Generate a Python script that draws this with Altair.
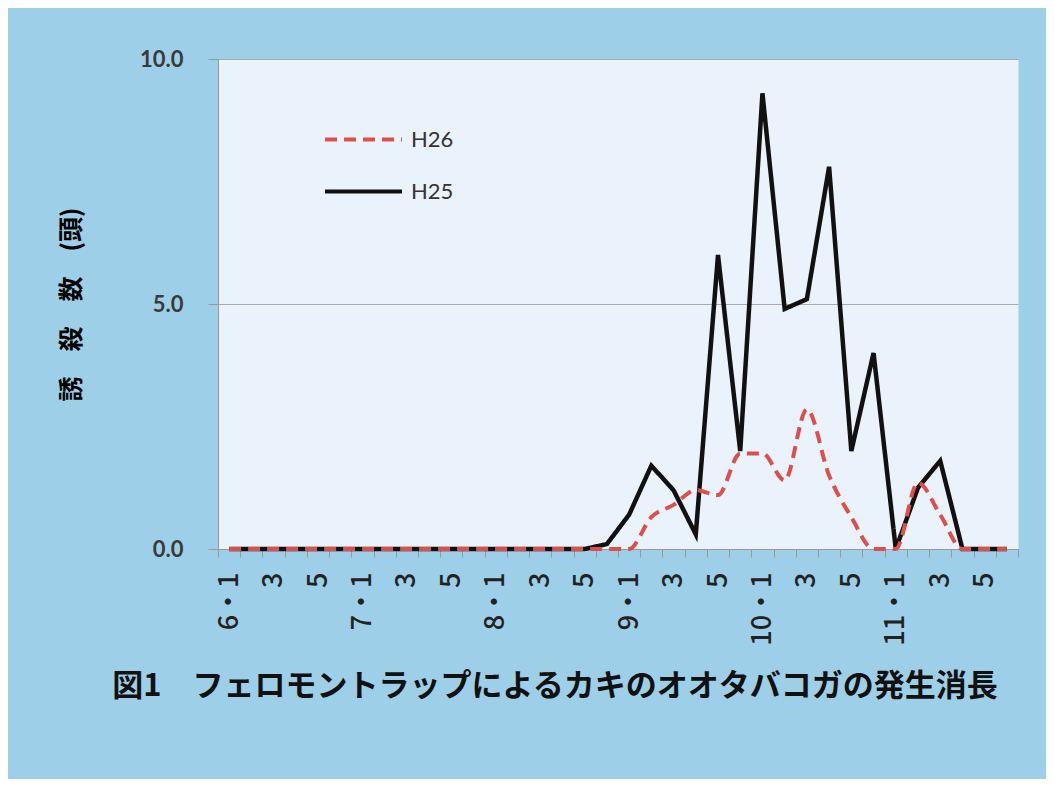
import altair as alt
import pandas as pd

months = ["6", "7", "8", "9", "10", "11"]
pentads = ["1", "2", "3", "4", "5", "6"]
categories = [f"{m}・{p}" for m in months for p in pentads]

h25 = [0, 0, 0, 0, 0, 0,
       0, 0, 0, 0, 0, 0,
       0, 0, 0, 0, 0, 0.1,
       0.7, 1.7, 1.2, 0.3, 6.0, 2.0,
       9.3, 4.9, 5.1, 7.8, 2.0, 4.0,
       0.0, 1.25, 1.8, 0, 0, 0]
h26 = [0, 0, 0, 0, 0, 0,
       0, 0, 0, 0, 0, 0,
       0, 0, 0, 0, 0, 0,
       0, 0.65, 0.9, 1.2, 1.1, 1.95,
       1.95, 1.4, 2.85, 1.5, 0.65, 0,
       0, 1.35, 0.7, 0, 0, 0]

series_names = ["H26", "H25"]
series_colors = ["#DD4F4A", "#111111"]
series_dash = [[12, 7], [1, 0]]

rows = []
for c, v in zip(categories, h25):
    rows.append({"cat": c, "value": v, "series": "H25"})
for c, v in zip(categories, h26):
    rows.append({"cat": c, "value": v, "series": "H26"})
df = pd.DataFrame(rows)

label_expr = (
    "indexof(['1','3','5'], split(datum.value,'・')[1]) < 0 ? '' : "
    "(split(datum.value,'・')[1] == '1' ? datum.value : split(datum.value,'・')[1])"
)

x_enc = alt.X(
    "cat:N",
    sort=categories,
    title=None,
    scale=alt.Scale(type="band", paddingInner=0, paddingOuter=0),
    axis=alt.Axis(
        labelAngle=270,
        labelAlign="right",
        labelBaseline="middle",
        labelExpr=label_expr,
        labelOverlap=False,
        labelFont="Noto Sans CJK JP",
        labelFontSize=27,
        labelFontWeight=500,
        labelColor="#222222",
        labelPadding=15,
        tickBand="extent",
        tickSize=8,
        tickColor="#999999",
        domainColor="#999999",
        grid=False,
    ),
)
y_enc = alt.Y(
    "value:Q",
    scale=alt.Scale(domain=[0, 10]),
    title="誘　殺　数　(頭)",
    axis=alt.Axis(
        values=[0, 5, 10],
        format=".1f",
        labelFont="Lato",
        labelFontSize=22,
        labelFontWeight="bold",
        labelColor="#3a3a3a",
        labelPadding=25,
        tickSize=10,
        tickColor="#999999",
        domainColor="#999999",
        gridColor="#aaaaaa",
        titleFont="Noto Sans CJK JP",
        titleFontSize=25,
        titleFontWeight="bold",
        titleColor="#000000",
        titlePadding=55,
    ),
)
legend_opts = dict(
    title=None,
    orient="none",
    legendX=105,
    legendY=40,
    symbolType="stroke",
    symbolSize=5929,
    symbolStrokeWidth=4,
    labelFont="Lato",
    labelFontSize=22,
    labelColor="#333333",
    labelOffset=7,
    rowPadding=-24,
)
color_enc = alt.Color(
    "series:N",
    scale=alt.Scale(domain=series_names, range=series_colors),
    legend=alt.Legend(**legend_opts),
)
dash_enc = alt.StrokeDash(
    "series:N",
    scale=alt.Scale(domain=series_names, range=series_dash),
    legend=alt.Legend(**legend_opts),
)

base = alt.Chart(df).encode(x=x_enc, y=y_enc, color=color_enc, strokeDash=dash_enc)

black = base.transform_filter(alt.datum.series == "H25").mark_line(strokeWidth=4.5)
red = base.transform_filter(alt.datum.series == "H26").mark_line(
    strokeWidth=4, interpolate="monotone"
)

chart = (
    alt.layer(black, red)
    .properties(
        width=800,
        height=490,
        autosize=alt.AutoSizeParams(type="none"),
        padding={"left": 210, "top": 51, "right": 28, "bottom": 230},
        title=alt.TitleParams(
            "図1　フェロモントラップによるカキのオオタバコガの発生消長",
            orient="bottom",
            anchor="middle",
            dx=-63,
            offset=27,
            font="Noto Sans CJK JP",
            fontSize=31,
            fontWeight="bold",
            color="#111111",
        ),
    )
    .configure(background="#9DD0E8")
    .configure_view(fill="#EAF2FB", stroke="transparent")
)

chart.save("out.html", embed_options={"renderer": "svg", "actions": False})
